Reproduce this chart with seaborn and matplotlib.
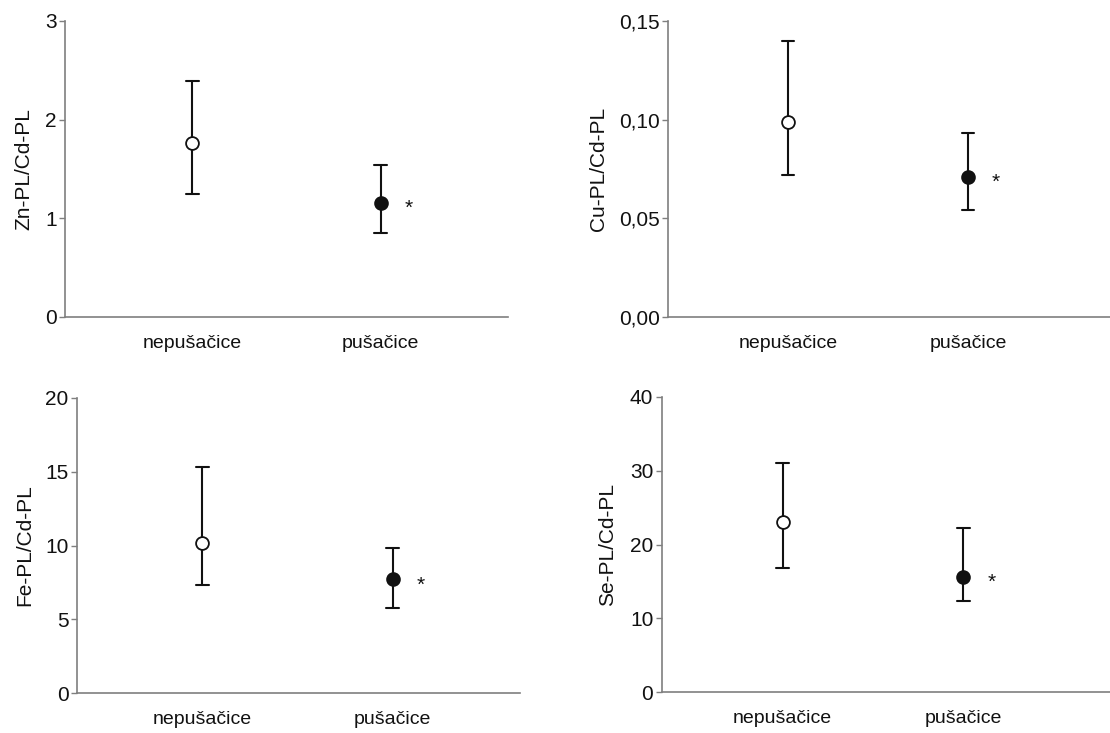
import numpy as np
import pandas as pd
import matplotlib
matplotlib.use("Agg")
import matplotlib.pyplot as plt
import seaborn as sns
from matplotlib.ticker import FixedLocator, FixedFormatter

groups = ["nepušačice", "pušačice"]

zn_mean = [1.76, 1.16]
zn_low = [1.25, 0.85]
zn_high = [2.39, 1.54]

cu_mean = [0.099, 0.071]
cu_low = [0.072, 0.054]
cu_high = [0.140, 0.093]

fe_mean = [10.2, 7.7]
fe_low = [7.35, 5.8]
fe_high = [15.3, 9.8]

se_mean = [23.1, 15.6]
se_low = [16.8, 12.4]
se_high = [31.0, 22.3]

ylabels = ["Zn-PL/Cd-PL", "Cu-PL/Cd-PL", "Fe-PL/Cd-PL", "Se-PL/Cd-PL"]
yticks = [[0, 1, 2, 3], [0, 0.05, 0.10, 0.15], [0, 5, 10, 15, 20], [0, 10, 20, 30, 40]]
yticklabels = [["0", "1", "2", "3"], ["0,00", "0,05", "0,10", "0,15"],
               ["0", "5", "10", "15", "20"], ["0", "10", "20", "30", "40"]]
significance = ["*", "*", "*", "*"]

panels = [
    (zn_mean, zn_low, zn_high),
    (cu_mean, cu_low, cu_high),
    (fe_mean, fe_low, fe_high),
    (se_mean, se_low, se_high),
]

sns.set_theme(style="white")
plt.rcParams["font.family"] = ["Liberation Sans", "DejaVu Sans"]

W, H = 1110, 733
fig = plt.figure(figsize=(W / 100, H / 100), dpi=100)

# axes boxes in pixels: left, right, top, bottom
boxes = [
    (65, 508, 21, 317),
    (668, 1110, 21, 317),
    (77, 520, 397.7, 693.3),
    (661.7, 1110, 396.7, 692.3),
]
xlims = [(-0.675, 1.675), (-0.667, 1.79), (-0.66, 1.67), (-0.668, 1.81)]
labelpads = [8, 8, 8, 9]

for i, ((m, lo, hi), box) in enumerate(zip(panels, boxes)):
    l, r, t, b = box
    ax = fig.add_axes([l / W, (H - b) / H, (r - l) / W, (b - t) / H])
    rows = []
    for g, mm, ll, hh in zip(groups, m, lo, hi):
        for v in (ll, mm, hh):
            rows.append({"group": g, "value": v})
    df = pd.DataFrame(rows)
    sns.pointplot(data=df, x="group", y="value", order=groups,
                  estimator="median", errorbar=lambda v: (v.min(), v.max()),
                  capsize=0.07, linestyle="none", marker="", color="#111111",
                  err_kws={"linewidth": 1.5}, ax=ax)
    mdf = pd.DataFrame({"group": groups, "mean": m})
    sns.scatterplot(data=mdf.iloc[[0]], x="group", y="mean", s=85, marker="o",
                    facecolor="white", edgecolor="#111111", linewidth=1.3, ax=ax, zorder=5)
    sns.scatterplot(data=mdf.iloc[[1]], x="group", y="mean", s=85, marker="o",
                    facecolor="#111111", edgecolor="#111111", linewidth=1.3, ax=ax, zorder=5)
    ax.annotate(significance[i], xy=(1, m[1]), xytext=(20, -4), textcoords="offset points",
                ha="center", va="center", fontsize=15, color="#111111")
    ax.set_xlim(*xlims[i])
    ax.set_ylim(yticks[i][0], yticks[i][-1])
    ax.yaxis.set_major_locator(FixedLocator(yticks[i]))
    ax.yaxis.set_major_formatter(FixedFormatter(yticklabels[i]))
    ax.set_xlabel("")
    ax.set_ylabel(ylabels[i], fontsize=15, labelpad=labelpads[i], color="#111111")
    for s in ("top", "right"):
        ax.spines[s].set_visible(False)
    for s in ("left", "bottom"):
        ax.spines[s].set_color("#7f7f7f")
        ax.spines[s].set_linewidth(1.2)
    ax.tick_params(axis="y", which="major", left=True, length=4, width=1, color="#7f7f7f",
                   labelsize=15, pad=2, labelcolor="#111111")
    ax.tick_params(axis="x", length=0, pad=13, labelsize=14, labelcolor="#111111")
    ax.set_facecolor("white")

fig.savefig("out.png", dpi=100, facecolor="white")
